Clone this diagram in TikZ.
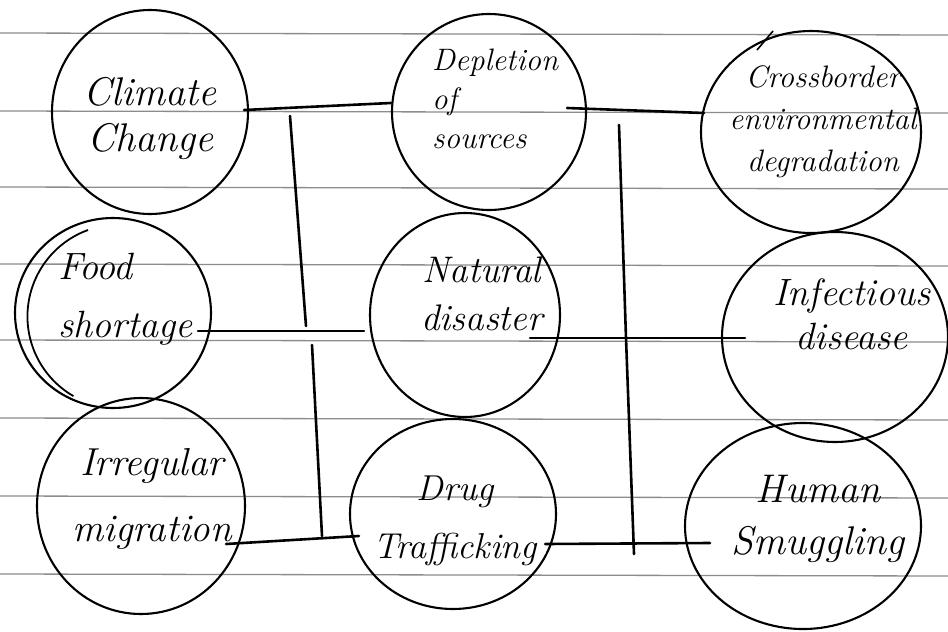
\documentclass[tikz,border=0pt]{standalone}
\usepackage{fontspec}
\usetikzlibrary{shapes.geometric,calc}
\newcommand{\hsz}[2]{\itshape\fontsize{#1}{#2}\selectfont}
\begin{document}
\begin{tikzpicture}[x=1pt,y=-1pt,
  rule/.style={draw=black!45, line width=1.3pt},
  bubble/.style={draw=black, line width=2.1pt, ellipse, inner sep=0pt},
  conn/.style={draw=black, line width=2.6pt, line cap=round},
  lbl/.style={inner sep=0pt, align=center}]
\useasboundingbox (0,0) rectangle (948,632);
\fill[white] (0,0) rectangle (948,632);
% ruled paper
\foreach \yy in {33,111,187,264,340,418,496,574}
  \draw[rule] (0,\yy) -- (948,\yy+2);
% bubbles
\node[bubble, minimum width=196pt, minimum height=204pt] (cc) at (150,112) {};
\node[bubble, minimum width=194pt, minimum height=196pt] (dep) at (489,112) {};
\node[bubble, minimum width=220pt, minimum height=202pt] (cb) at (811,132) {};
\node[bubble, minimum width=196pt, minimum height=190pt] (fs) at (113,313) {};
\node[bubble, minimum width=190pt, minimum height=204pt] (nd) at (465,315) {};
\node[bubble, minimum width=226pt, minimum height=210pt] (inf) at (835,337) {};
\node[bubble, minimum width=208pt, minimum height=216pt] (im) at (141,506) {};
\node[bubble, minimum width=206pt, minimum height=190pt] (dt) at (453,514) {};
\node[bubble, minimum width=236pt, minimum height=206pt] (hs) at (803,526) {};
% extra pen strokes
\draw[line width=1.8pt] (88,230) arc[start angle=110, end angle=240, x radius=92pt, y radius=92pt];
\draw[line width=1.6pt] (757,50) -- (773,31);
% labels
\node[lbl, font=\hsz{40}{46}] (tcc) at (150,118) {Climate\\Change};
\node[lbl, font=\hsz{31}{39}, align=left, anchor=west] (tdep) at (432,99) {Depletion\\of\\sources};
\node[lbl, font=\hsz{31}{42}] (tcb) at (823,122) {Crossborder\\environmental\\degradation};
\node[lbl, font=\hsz{38}{58}, align=left, anchor=west] (tfs) at (58,299) {Food\\shortage};
\node[lbl, font=\hsz{37}{48}] (tnd) at (482,294) {Natural\\disaster};
\node[lbl, font=\hsz{38}{44}] (tinf) at (852,314) {Infectious\\disease};
\node[lbl, font=\hsz{39}{66}] (tim) at (152,499) {Irregular\\migration};
\node[lbl, font=\hsz{36}{58}] (tdt) at (455,521) {Drug\\Trafficking};
\node[lbl, font=\hsz{40}{52}] (ths) at (818,519) {Human\\Smuggling};
% connectors
\draw[conn] ($(cc.east)+(-5,-2)$) -- ($(dep.west)+(0,-9)$);
\draw[conn] ($(dep.east)+(-20,-4)$) -- ($(cb.west)+(4,-19)$);
\draw[conn] ($(fs.east)+(-14,18)$) -- ($(nd.west)+(-5,16)$);
\draw[conn] ($(nd.east)+(-31,23)$) -- ($(inf.west)+(24,1)$);
\draw[conn] ($(im.east)+(-20,38)$) -- ($(dt.west)+(10,22)$);
\draw[conn] ($(dt.east)+(-12,30)$) -- ($(hs.west)+(26,17)$);
\coordinate (la) at (290,116);
\coordinate (lb) at (306,326);
\coordinate (lc) at (312,345);
\coordinate (ld) at (322,536);
\coordinate (ra) at (619,125);
\coordinate (rb) at (626,338);
\coordinate (rc) at (634,554);
\draw[conn] (la) -- (lb);
\draw[conn] (lc) -- (ld);
\draw[conn] (ra) -- (rb) -- (rc);
\end{tikzpicture}
\end{document}
